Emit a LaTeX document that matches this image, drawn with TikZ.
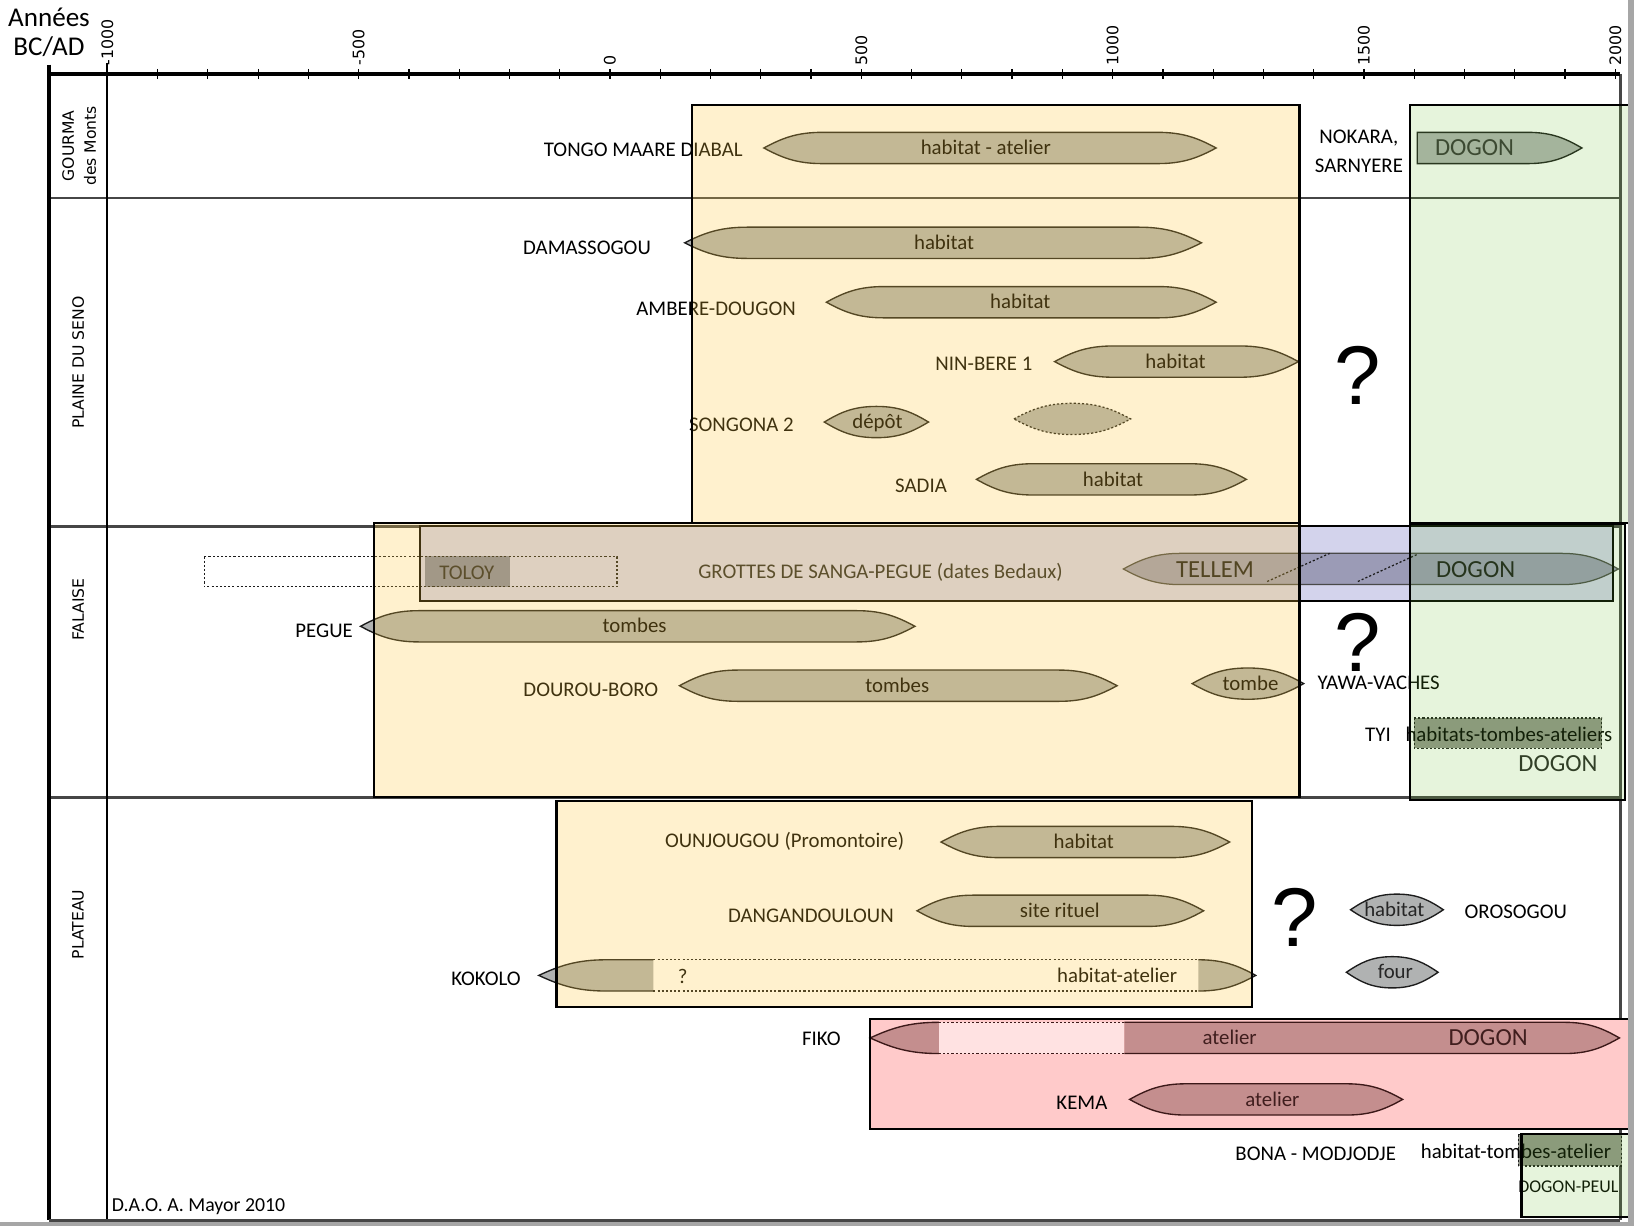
\documentclass[tikz,border=0pt]{standalone}
\usepackage{fontspec}
\setmainfont{Carlito}
\newfontfamily\dejavu{DejaVu Sans}
\newfontfamily\qfont{Liberation Sans}
\definecolor{barg}{RGB}{176,178,178}
\definecolor{tellem}{RGB}{155,155,182}
\definecolor{grot}{RGB}{211,211,236}
\definecolor{toloy}{RGB}{132,135,160}
\definecolor{yovl}{RGB}{255,203,63}
\definecolor{govl}{RGB}{108,190,49}
\definecolor{pinkbox}{RGB}{255,202,202}
\definecolor{pinkbar}{RGB}{196,142,142}
\definecolor{pinklight}{RGB}{255,226,226}
\definecolor{pinktext}{RGB}{64,30,30}
\definecolor{pstroke}{RGB}{60,25,25}
\definecolor{dgreen}{RGB}{146,149,139}
\definecolor{bstroke}{RGB}{28,28,28}
\definecolor{sepcol}{RGB}{70,70,70}
\newcommand\lensbar[5]{%
 \path[#1] (#2,#4) .. controls ({#2+0.3*#5},{#4-9}) and ({#2+0.55*#5},{#4-15}) .. ({#2+#5},{#4-15})
 -- ({#3-#5},{#4-15}) .. controls ({#3-0.55*#5},{#4-15}) and ({#3-0.3*#5},{#4-9}) .. (#3,#4)
 .. controls ({#3-0.3*#5},{#4+9}) and ({#3-0.55*#5},{#4+15}) .. ({#3-#5},{#4+15})
 -- ({#2+#5},{#4+15}) .. controls ({#2+0.55*#5},{#4+15}) and ({#2+0.3*#5},{#4+9}) .. (#2,#4) -- cycle;}
\begin{document}
\begin{tikzpicture}[x=0.5pt,y=-0.5pt,
  lbl/.style={font=\fontsize{10}{12}\selectfont, inner sep=0pt, text height=6.4pt, text depth=0pt},
  bigl/.style={font=\fontsize{11.8}{13}\selectfont, inner sep=0pt, text height=7.5pt, text depth=0pt},
  reg/.style={font=\dejavu\fontsize{7.5}{10.5}\selectfont, rotate=90, inner sep=0pt},
  num/.style={font=\dejavu\fontsize{7.6}{9}\selectfont, rotate=90, anchor=west, inner sep=0pt},
  qm/.style={font=\qfont\fontsize{40}{40}\selectfont, inner sep=0pt},
  barf/.style={fill=barg, draw=bstroke, line width=0.65pt},
  pbarf/.style={fill=pinkbar, draw=pstroke, line width=0.65pt},
  dots/.style={draw=bstroke, line width=0.6pt, dash pattern=on 1pt off 1pt},
  frameline/.style={draw=black, line width=1.5pt},
  sepline/.style={draw=sepcol, line width=1.3pt},
  boxb/.style={draw=black, line width=1pt},
  yov/.style={fill=yovl, fill opacity=0.25},
  gov/.style={fill=govl, fill opacity=0.17},
  ptxt/.style={text=pinktext},
]
\useasboundingbox (0,0) rectangle (1568,1176);
\fill[white] (0,0) rectangle (1568,1176);

% ---------- frame ----------
\draw[sepline] (47,190) -- (1554,190);
\draw[sepline] (47,505) -- (1554,505);
\draw[sepline] (47,765) -- (1554,765);
\draw[frameline] (47,62) -- (47,1171);
\draw[black, line width=1pt] (103,60) -- (103,1171);
\draw[draw=sepcol, line width=1.4pt] (1555,71) -- (1555,1171);
\draw[draw=sepcol, line width=1.4pt] (47,1171) -- (1555,1171);
\draw[frameline] (47,71) -- (1555,71);
\foreach \yr in {-1000,-900,...,2000}{
  \draw[black, line width=0.6pt] ({103+(\yr+1000)*0.48233},66) -- ({103+(\yr+1000)*0.48233},76);
}
\foreach \yr/\nm in {-1000/a,-500/b,0/c,500/d,1000/e,1500/f,2000/g}{
  \node[num] (yr\nm) at ({103+(\yr+1000)*0.48233},63) {\yr};
}
\node[font=\fontsize{13}{15}\selectfont, inner sep=0pt] (annees) at (47,17) {Années};
\node[font=\fontsize{13}{15}\selectfont, inner sep=0pt] (bcad) at (47,45) {BC/AD};
\node[reg, align=center] (gourma) at (76,140) {GOURMA\\des Monts};
\node[reg] (plaine) at (75,348) {PLAINE DU SENO};
\node[reg] (falaise) at (75,585) {FALAISE};
\node[reg] (plateau) at (75,887) {PLATEAU};

% ---------- opaque base fills ----------
\fill[pinkbox] (835,978) rectangle (1563,1083);
\fill[grot] (403,505) rectangle (1548,577);
\fill[toloy] (408,534) rectangle (489,563);
\draw[dots] (196,534) rectangle (592,563);
\fill[dgreen] (1357,689) rectangle (1537,718);
\draw[dots] (1357,689) rectangle (1537,718);
\fill[dgreen] (1457,1089) rectangle (1556,1119);
\draw[dots] (1457,1089) rectangle (1556,1119);

% ---------- bars ----------
% Gourma
\lensbar{barf}{733}{1167}{142}{56}
\path[barf] (1360,127) -- (1466,127) .. controls (1489.4,127) and (1502.4,133) .. (1518,142) .. controls (1502.4,151) and (1489.4,157) .. (1466,157) -- (1360,157) -- cycle;
% Plaine du Seno
\lensbar{barf}{657}{1153}{233}{60}
\lensbar{barf}{793}{1167}{290}{55}
\lensbar{barf}{1012}{1246}{347}{56}
\lensbar{barf}{791}{891}{405}{50}
\lensbar{fill=barg, dots}{973}{1085}{402}{56}
\lensbar{barf}{937}{1196}{460}{54}
% Falaise
\lensbar{fill=tellem, draw=bstroke!80, line width=0.6pt}{1078}{1553}{546}{55}
\draw[dots] (1216,558) -- (1276,531);
\draw[dots] (1303,558) -- (1360,532);
\lensbar{barf}{346}{878}{601}{56}
\lensbar{barf}{652}{1072}{658}{56}
\lensbar{barf}{1144}{1251}{656}{53.5}
% Plateau
\lensbar{barf}{903}{1180}{808}{56}
\lensbar{barf}{880}{1155}{874}{54}
\fill[barg] (517,936) .. controls (536.5,927) and (552.75,921) .. (582,921) -- (627,921) -- (627,951) -- (582,951) .. controls (552.75,951) and (536.5,945) .. (517,936) -- cycle;
\draw[bstroke, line width=0.65pt] (627,921) -- (582,921) .. controls (552.75,921) and (536.5,927) .. (517,936) .. controls (536.5,945) and (552.75,951) .. (582,951) -- (627,951);
\draw[dots] (627,921) -- (1150,921) (627,951) -- (1150,951);
\fill[barg] (1150,921) .. controls (1174.75,921) and (1188.5,927) .. (1205,936) .. controls (1188.5,945) and (1174.75,951) .. (1150,951) -- cycle;
\draw[bstroke, line width=0.65pt] (1150,921) .. controls (1174.75,921) and (1188.5,927) .. (1205,936) .. controls (1188.5,945) and (1174.75,951) .. (1150,951);
\lensbar{barf}{1296}{1385}{873}{44.5}
\lensbar{barf}{1292}{1380}{933}{44}
% FIKO
\fill[pinkbar] (835,996) .. controls (854.8,987) and (871.3,981) .. (901,981) -- (901,1011) .. controls (871.3,1011) and (854.8,1005) .. (835,996) -- cycle;
\draw[pstroke, line width=0.65pt] (901,981) .. controls (871.3,981) and (854.8,987) .. (835,996) .. controls (854.8,1005) and (871.3,1011) .. (901,1011);
\fill[pinklight] (901,981) rectangle (1079,1011);
\draw[dots, draw=pstroke] (901,981) -- (1079,981) (901,1011) -- (1079,1011);
\fill[pinkbar] (1079,981) -- (1501,981) .. controls (1524.85,981) and (1538.1,987) .. (1554,996) .. controls (1538.1,1005) and (1524.85,1011) .. (1501,1011) -- (1079,1011) -- cycle;
\draw[pstroke, line width=0.65pt] (1079,981) -- (1501,981) .. controls (1524.85,981) and (1538.1,987) .. (1554,996) .. controls (1538.1,1005) and (1524.85,1011) .. (1501,1011) -- (1079,1011);
\lensbar{pbarf}{1084}{1346}{1055}{54}

% ---------- texts ----------
\node[lbl, anchor=east] (tongo) at (713,144) {TONGO MAARE DIABAL};
\node[lbl] (tongob) at (946,142) {habitat - atelier};
\node[lbl] (nokara) at (1304,131) {NOKARA,};
\node[lbl] (sarnyere) at (1304,159) {SARNYERE};
\node[bigl, text=black!80] (dogon1) at (1415,142) {DOGON};

\node[lbl, anchor=east] (damas) at (625,238) {DAMASSOGOU};
\node[lbl] (damasb) at (906,233) {habitat};
\node[lbl, anchor=east] (ambere) at (764,296) {AMBERE-DOUGON};
\node[lbl] (ambereb) at (979,290) {habitat};
\node[lbl, anchor=east] (ninbere) at (991,349) {NIN-BERE 1};
\node[lbl] (ninbereb) at (1128,347) {habitat};
\node[lbl, anchor=east] (songona) at (762,408) {SONGONA 2};
\node[lbl] (depot) at (842,405) {dépôt};
\node[lbl, anchor=east] (sadia) at (909,466) {SADIA};
\node[lbl] (sadiab) at (1068,460) {habitat};
\node[qm] (q1) at (1303,360) {?};

\node[lbl, text=black!85] (toloy) at (448,550) {TOLOY};
\node[lbl, text=black!85] (grottes) at (845,549) {GROTTES DE SANGA-PEGUE (dates Bedaux)};
\node[bigl, text=black!90] (tellemt) at (1166,547) {TELLEM};
\node[bigl, text=black!90] (dogon2) at (1416,547) {DOGON};
\node[lbl, anchor=east] (pegue) at (339,605) {PEGUE};
\node[lbl] (pegueb) at (609,601) {tombes};
\node[lbl, anchor=east] (dourou) at (632,662) {DOUROU-BORO};
\node[lbl] (dourob) at (861,658) {tombes};
\node[lbl] (tombe) at (1200,656) {tombe};
\node[lbl, anchor=west] (yawa) at (1264,655) {YAWA-VACHES};
\node[qm] (q2) at (1303,616) {?};
\node[lbl, anchor=east] (tyi) at (1335,705) {TYI};
\node[lbl] (htaf) at (1448,705) {habitats-tombes-ateliers};
\node[bigl, text=black!85] (dogon3) at (1495,733) {DOGON};

\node[lbl, anchor=east] (ounj) at (868,807) {OUNJOUGOU (Promontoire)};
\node[lbl] (ounjb) at (1040,808) {habitat};
\node[lbl, anchor=east] (dang) at (858,879) {DANGANDOULOUN};
\node[lbl] (dangb) at (1017,874) {site rituel};
\node[lbl, anchor=east] (kokolo) at (500,939) {KOKOLO};
\node[lbl] (kokq) at (655,937) {?};
\node[lbl] (kokb) at (1072,936) {habitat-atelier};
\node[qm] (q3) at (1242,880) {?};
\node[lbl, text=black!85] (orohab) at (1338,873) {habitat};
\node[lbl, anchor=west] (orosogou) at (1405,875) {OROSOGOU};
\node[lbl, text=black!85] (four) at (1339,933) {four};
\node[lbl, anchor=east] (fiko) at (807,997) {FIKO};
\node[lbl, ptxt] (fikob) at (1180,996) {atelier};
\node[bigl, ptxt] (dogon4) at (1428,996) {DOGON};
\node[lbl, anchor=east] (kema) at (1063,1058) {KEMA};
\node[lbl, ptxt] (kemab) at (1221,1055) {atelier};
\node[lbl, anchor=east] (bona) at (1340,1107) {BONA - MODJODJE};
\node[lbl, anchor=west] (htab) at (1363,1105) {habitat-tombes-atelier};
\node[font=\fontsize{8.6}{10}\selectfont, inner sep=0pt, text height=5.5pt, text depth=0pt] (dpeul) at (1505,1139) {DOGON-PEUL};
\node[font=\fontsize{9.5}{11}\selectfont, inner sep=0pt, anchor=west, text height=6.1pt, text depth=0pt] (dao) at (107,1156) {D.A.O. A. Mayor 2010};

% grottes border (under overlays)
\draw[boxb] (403,505) rectangle (1548,577);

% ---------- translucent overlays ----------
\fill[yov] (664,101) rectangle (1247,502);
\fill[yov] (359,502) rectangle (1247,765);
\fill[yov] (534,769) rectangle (1201,966);
\fill[gov] (1353,101) rectangle (1563,502);
\fill[gov] (1353,503) rectangle (1559,768);
\fill[gov] (1460,1088) rectangle (1563,1168);

% ---------- box borders ----------
\draw[boxb] (664,101) rectangle (1247,502);
\draw[boxb] (359,502) rectangle (1247,765);
\draw[boxb] (534,769) rectangle (1201,966);
\draw[boxb] (1353,101) rectangle (1563,502);
\draw[boxb] (1353,503) rectangle (1559,768);
\draw[boxb] (1460,1088) rectangle (1563,1168);
\draw[boxb] (835,978) rectangle (1563,1083);

% edge bands
\fill[gray!70] (1562,0) rectangle (1568,1176);
\fill[gray!70] (0,1173) rectangle (1568,1176);
\end{tikzpicture}
\end{document}
